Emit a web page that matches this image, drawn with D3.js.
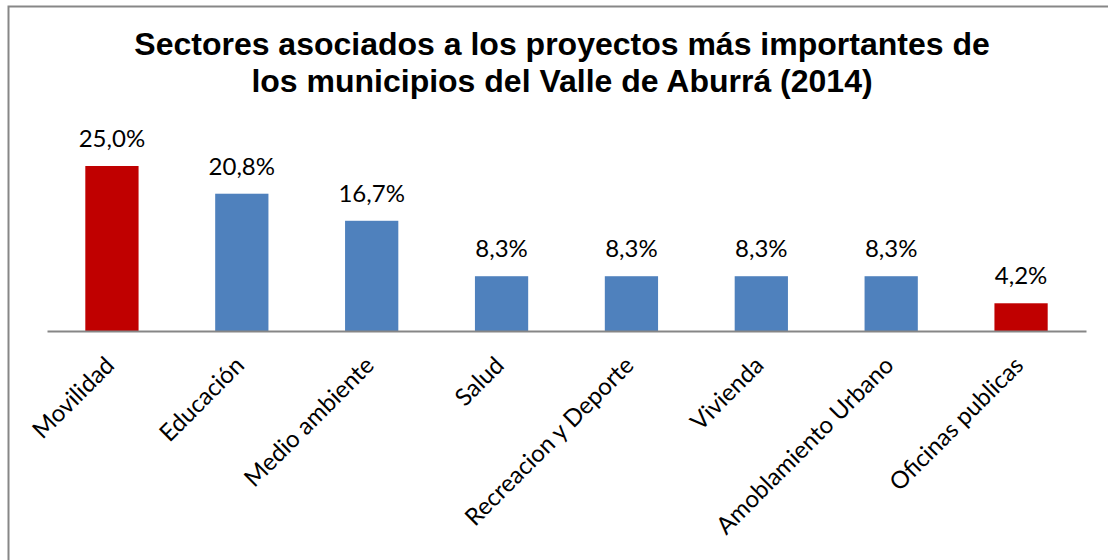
<!DOCTYPE html>
<html>
<head>
<meta charset="utf-8">
<script src="https://cdn.jsdelivr.net/npm/d3@7"></script>
<style>
  body { margin: 0; background: #fff; }
  .title { font-family: 'Liberation Sans', Arial, sans-serif; font-weight: bold; font-size: 32px; }
  .value, .cat { font-family: Lato, 'Open Sans', sans-serif; font-size: 24px; fill: #000; }
</style>
</head>
<body>
<svg class="bar-chart" width="1108" height="560"></svg>
<script>
// data
var categories = ['Movilidad', 'Educación', 'Medio ambiente', 'Salud', 'Recreacion y Deporte', 'Vivienda', 'Amoblamiento Urbano', 'Oficinas publicas'];
var values = [25.0, 20.8, 16.7, 8.3, 8.3, 8.3, 8.3, 4.2];
var highlighted = ['Movilidad', 'Oficinas publicas'];
var titleLines = ['Sectores asociados a los proyectos más importantes de', 'los municipios del Valle de Aburrá (2014)'];

var svg = d3.select('svg.bar-chart');
var svgWidth = +svg.attr('width');
var svgHeight = +svg.attr('height');

// chart frame (runs off the right and bottom edges)
svg.append('rect')
  .attr('x', 8.5).attr('y', 6.5)
  .attr('width', 1120).attr('height', 600)
  .attr('fill', '#fff')
  .attr('stroke', '#878787')
  .attr('stroke-width', 2);

var padding = {t: 166, r: 22, b: 229, l: 47};
var chartWidth = svgWidth - padding.l - padding.r;
var chartHeight = svgHeight - padding.t - padding.b;

var xScale = d3.scaleBand().domain(categories).range([padding.l, padding.l + chartWidth]).paddingInner(0.59).paddingOuter(0.295);
var yScale = d3.scaleLinear().domain([0, 25]).range([padding.t + chartHeight, padding.t]);

// title
svg.append('text')
  .attr('class', 'title')
  .attr('text-anchor', 'middle')
  .selectAll('tspan')
  .data(titleLines)
  .enter()
  .append('tspan')
  .attr('x', 562)
  .attr('y', function(d, i) { return 55 + i * 37; })
  .text(function(d) { return d; });

// bars
svg.selectAll('rect.bar')
  .data(categories)
  .enter()
  .append('rect')
  .attr('class', 'bar')
  .attr('x', function(d) { return xScale(d); })
  .attr('width', xScale.bandwidth())
  .attr('y', function(d, i) { return yScale(values[i]); })
  .attr('height', function(d, i) { return yScale(0) - yScale(values[i]); })
  .attr('fill', function(d) { return highlighted.indexOf(d) >= 0 ? '#C00000' : '#4F81BD'; });

// x axis line
var xAxis = svg.append('g')
  .attr('transform', 'translate(0,' + yScale(0) + ')')
  .call(d3.axisBottom(xScale).tickSize(0).tickFormat(''));
xAxis.select('.domain').attr('stroke', '#868686').attr('stroke-width', 2);

// value labels
svg.selectAll('text.value')
  .data(categories)
  .enter()
  .append('text')
  .attr('class', 'value')
  .attr('text-anchor', 'middle')
  .attr('x', function(d) { return xScale(d) + xScale.bandwidth() / 2; })
  .attr('y', function(d, i) { return yScale(values[i]) - 19; })
  .text(function(d, i) { return values[i].toFixed(1).replace('.', ',') + '%'; });

// category labels
svg.selectAll('text.cat')
  .data(categories)
  .enter()
  .append('text')
  .attr('class', 'cat')
  .attr('text-anchor', 'end')
  .attr('dy', '0.7em')
  .attr('transform', function(d) {
    return 'translate(' + (xScale(d) + xScale.bandwidth() / 2 - 8) + ',' + (yScale(0) + 24) + ') rotate(-45)';
  })
  .text(function(d) { return d; });
</script>
</body>
</html>
